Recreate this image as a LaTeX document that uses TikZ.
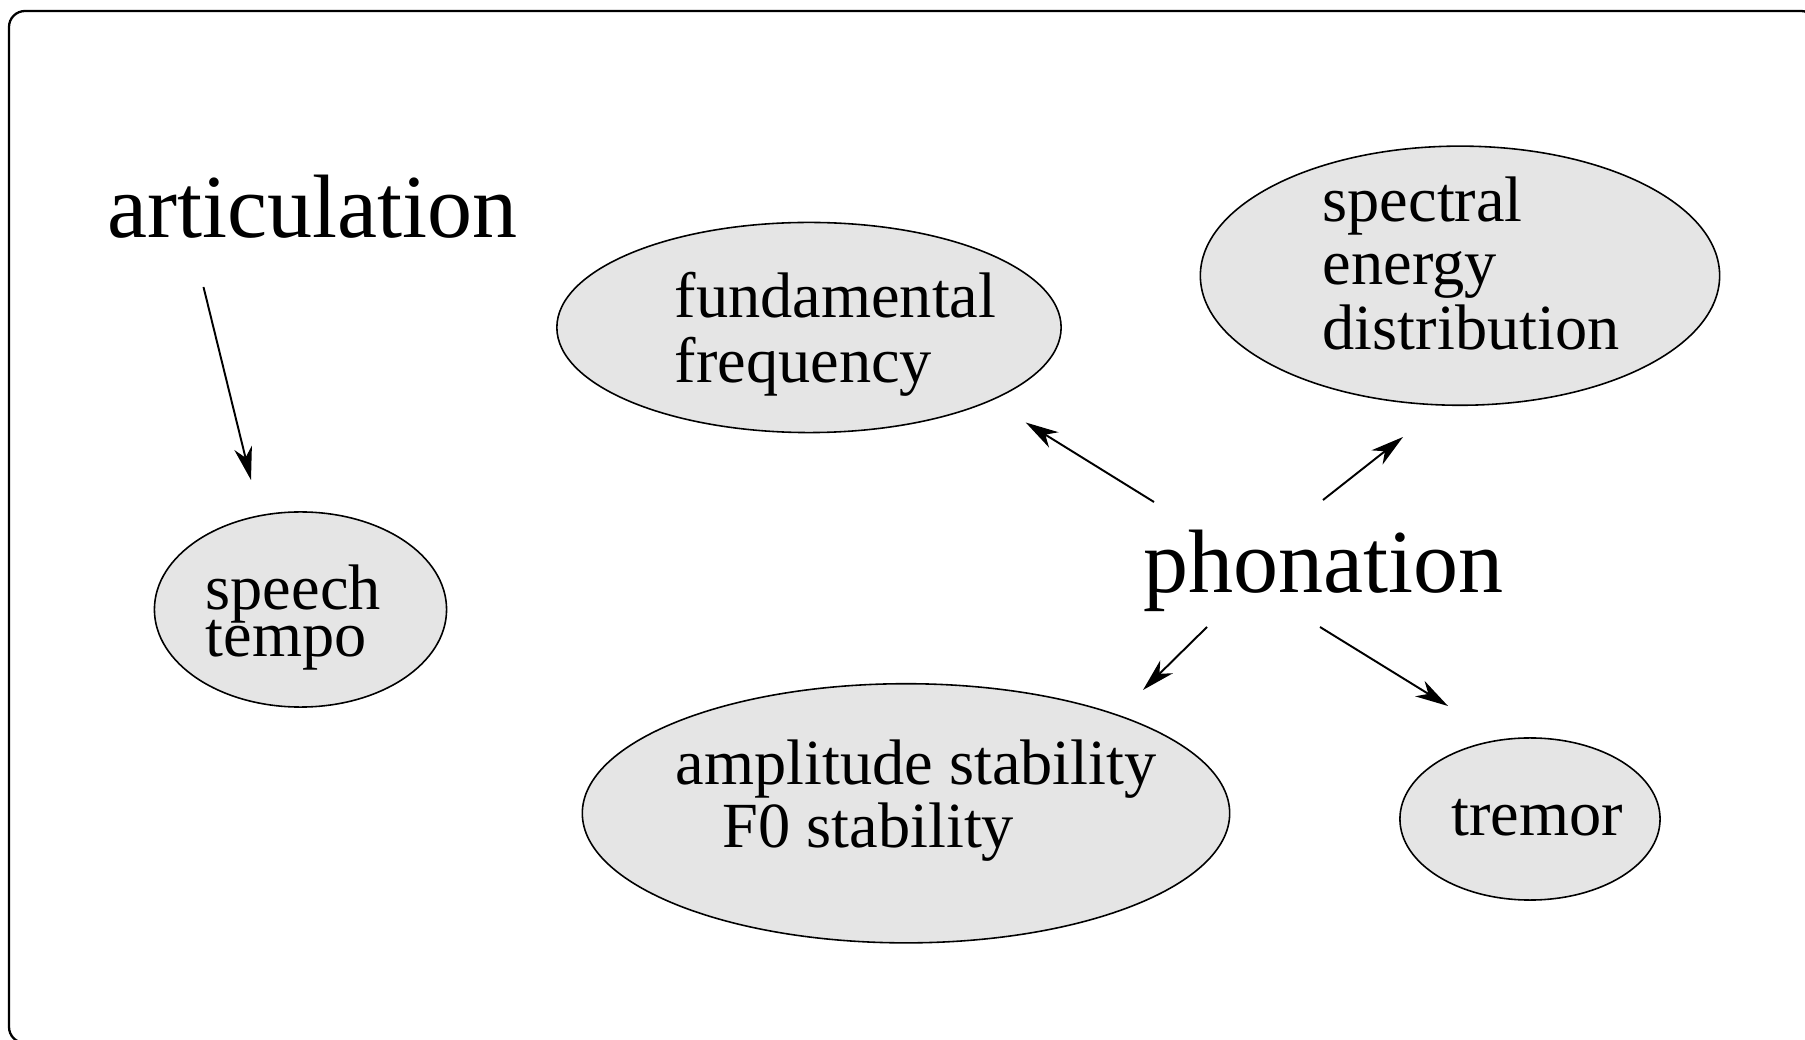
\documentclass[tikz,border=0pt]{standalone}
\usepackage{fontspec}
\setmainfont{Liberation Serif}
\usetikzlibrary{arrows.meta,shapes.geometric}
\definecolor{ellfill}{HTML}{E5E5E5}
\tikzset{
  ell/.style={ellipse,draw=black,line width=0.45pt,fill=ellfill,inner sep=0pt,outer sep=0pt},
  bigtxt/.style={anchor=base west,inner sep=0pt,font=\fontsize{25.6}{26}\selectfont},
  smalltxt/.style={anchor=base west,inner sep=0pt,font=\fontsize{18.3}{18.3}\selectfont},
  arr/.style={line width=0.55pt,-{Stealth[length=0.33cm,width=0.18cm,inset=0.1cm]}}
}
\begin{document}
\begin{tikzpicture}[x=0.01cm,y=-0.01cm]
\useasboundingbox (0,0) rectangle (1805,1040);
\clip (0,0) rectangle (1805,1040);
\draw[line width=0.65pt,rounded corners=0.16cm] (9,11) rectangle (1817,1043);

% ellipses
\node[ell,minimum width=5.04cm,minimum height=2.10cm] (ffell) at (809,327.5) {};
\node[ell,minimum width=5.19cm,minimum height=2.59cm] (seell) at (1460,275.7) {};
\node[ell,minimum width=2.92cm,minimum height=1.95cm] (stell) at (300.5,609.5) {};
\node[ell,minimum width=6.47cm,minimum height=2.59cm] (asell) at (906,813.3) {};
\node[ell,minimum width=2.60cm,minimum height=1.62cm] (trell) at (1530,819) {};

% texts
\node[bigtxt] (art) at (107,238) {articulation};
\node[bigtxt] (phon) at (1143,593) {phonation};
\node[smalltxt] (ff1) at (674,318) {fundamental};
\node[smalltxt] (ff2) at (674,383) {frequency};
\node[smalltxt] (se1) at (1322,222) {spectral};
\node[smalltxt] (se2) at (1322,285) {energy};
\node[smalltxt] (se3) at (1322,350) {distribution};
\node[smalltxt] (st1) at (205,610) {speech};
\node[smalltxt] (st2) at (205,657) {tempo};
\node[smalltxt] (as1) at (675,785) {amplitude stability};
\node[smalltxt] (as2) at (722,848) {F0 stability};
\node[smalltxt] (tr) at (1450.5,836) {tremor};

% arrow end points
\coordinate (a1s) at (203.5,287);
\coordinate (a1e) at (251,480);
\coordinate (a2s) at (1154,502);
\coordinate (a2e) at (1025.7,422.5);
\coordinate (a3s) at (1323,500);
\coordinate (a3e) at (1403,437);
\coordinate (a4s) at (1207,627);
\coordinate (a4e) at (1143,690);
\coordinate (a5s) at (1320,627);
\coordinate (a5e) at (1448,706);

\draw[arr] (a1s) -- (a1e);
\draw[arr] (a2s) -- (a2e);
\draw[arr] (a3s) -- (a3e);
\draw[arr] (a4s) -- (a4e);
\draw[arr] (a5s) -- (a5e);
\end{tikzpicture}
\end{document}
